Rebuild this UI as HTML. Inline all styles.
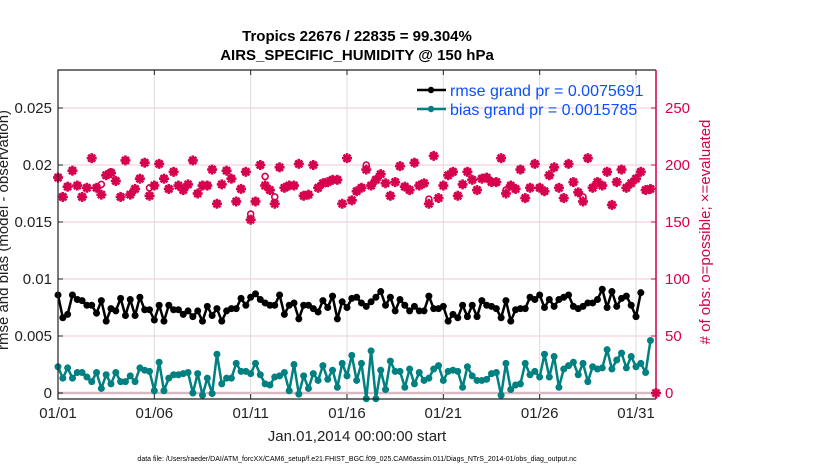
<!DOCTYPE html>
<html><head><meta charset="utf-8"><style>
body{margin:0;background:#fff;}
svg{display:block;font-family:"Liberation Sans",sans-serif;}
</style></head><body>
<svg id="chart" width="830" height="470" viewBox="0 0 830 470" xmlns="http://www.w3.org/2000/svg">
<text x="357" y="41" text-anchor="middle" font-size="15" font-weight="bold">Tropics 22676 / 22835 = 99.304%</text>
<text x="357" y="60" text-anchor="middle" font-size="15" font-weight="bold">AIRS_SPECIFIC_HUMIDITY @ 150 hPa</text>
<g id="grid"></g>
<g id="marks"></g>
<g id="axes"></g>
<text transform="translate(8,230) rotate(-90)" text-anchor="middle" font-size="15" fill="#222">rmse and bias (model - observation)</text>
<text transform="translate(710,232) rotate(-90)" text-anchor="middle" font-size="15" fill="#d6004e"># of obs: o=possible; ×=evaluated</text>
<text x="357" y="441" text-anchor="middle" font-size="15" fill="#222">Jan.01,2014 00:00:00 start</text>
<text x="357" y="461" text-anchor="middle" font-size="7" fill="#000">data file: /Users/raeder/DAI/ATM_forcXX/CAM6_setup/f.e21.FHIST_BGC.f09_025.CAM6assim.011/Diags_NTrS_2014-01/obs_diag_output.nc</text>
<g>
<line x1="417" y1="90" x2="446" y2="90" stroke="#000" stroke-width="2.5"/>
<circle cx="431" cy="90" r="3.2" fill="#000"/>
<text x="450" y="96" font-size="16" fill="#0a50ff">rmse grand pr = 0.0075691</text>
<line x1="417" y1="109" x2="446" y2="109" stroke="#008080" stroke-width="2.5"/>
<circle cx="431" cy="109" r="3.2" fill="#008080"/>
<text x="450" y="115" font-size="16" fill="#0a50ff">bias grand pr = 0.0015785</text>
</g>
</svg>
<script>
const xTickLabels = ["01/01","01/06","01/11","01/16","01/21","01/26","01/31"];
const xTickDays = [0,5,10,15,20,25,30];
const yTickValues = [0,0.005,0.01,0.015,0.02,0.025];
const yTickLabels = ["0","0.005","0.01","0.015","0.02","0.025"];
const y2TickValues = [0,50,100,150,200,250];
const rmse = [86,66,69,86,82,81,77,77,70,81,63,74,72,83,68,82,68,84,73,73,64,77,63,77,73,73,69,72,67,72,63,76,68,74,63,72,74,74,83,77,84,87,82,79,77,77,86,69,77,79,65,77,77,74,71,81,
75,85,65,80,75,83,84,79,76,80,84,89,77,84,72,82,77,72,76,72,72,85,74,74,76,63,69,66,77,67,77,67,81,77,76,74,66,81,63,73,74,74,84,82,86,75,82,76,82,84,86,76,74,76,79,79,82,91,75,89,76,83,85,77,67,88];
const bias = [23,13,22,13,18,18,14,10,18,4,16,8,18,10,10,15,10,22,20,19,2,27,2,13,16,16,17,18,0,17,-2,13,-0.5,34,8,13,13,26,19,19,17,26,16,8,7,14,15,18,2,25,-1,15,4,17,11,24,
12,20,5,26,15,33,11,26,-5,37,-5,20,3,28,19,19,5,21,8,18,11,13,21,24,11,19,20,19,5,23,15,11,11,12,17,18,-2,26,3,7,8,26,16,19,14,34,14,32,5,21,24,27,16,26,10,23,21,22,38,21,29,35,22,32,23,26,18,46];
const evaluated = [189,172,181,195,182,172,180,206,180,174,191,193,186,172,204,174,179,188,202,173,182,201,188,179,194,182,178,183,204,175,182,182,196,166,183,195,188,168,179,194,152,168,200,182,178,166,198,180,182,182,201,173,174,200,180,184,
185,187,187,166,206,169,177,180,196,182,187,192,184,173,185,199,181,178,202,182,184,166,208,171,182,191,194,173,183,194,187,178,188,189,185,185,206,175,182,179,196,171,180,201,180,177,191,198,180,171,201,185,176,168,206,180,185,182,194,165,185,196,180,184,188,194,178,179];
const possible = [189,172,181,195,182,172,180,206,180,183,191,194,186,172,204,174,179,188,202,180,182,201,188,179,194,182,178,183,204,175,182,182,196,166,183,195,188,168,179,194,157,168,200,190,178,172,198,180,182,182,201,173,174,200,180,184,
185,187,187,166,206,169,177,180,200,182,187,192,184,173,185,199,181,178,202,182,184,170,208,171,182,191,194,173,183,194,187,178,188,189,185,185,206,178,182,179,196,171,180,201,180,177,191,198,180,171,201,185,176,172,206,180,185,182,194,165,185,196,180,184,188,194,178,179];
const stepDays = 0.25;

const NS="http://www.w3.org/2000/svg";
const L=58,R=656,T=70,B=399,Y0=393,PXPER=57/0.005;
function xs(d){return L+d*(578/30);}
function ys(v){return Y0-v*PXPER;}
function y2s(n){return Y0-n*(57/50);}
function mk(tag,attrs,parent){const e=document.createElementNS(NS,tag);for(const k in attrs)e.setAttribute(k,attrs[k]);parent.appendChild(e);return e;}
const grid=document.getElementById('grid'),marks=document.getElementById('marks'),axes=document.getElementById('axes');
yTickValues.forEach((v,i)=>{
  const g=mk('line',{x1:L,x2:R,y1:ys(v),y2:ys(v),stroke:i==0?'#d9b8c2':'#f4c8d6','stroke-width':i==0?2.5:1},grid);
  
  
  const t=mk('text',{x:L-6,y:ys(v)+5,'text-anchor':'end','font-size':15,fill:'#222'},axes);
  t.textContent=yTickLabels[i];
  
  
  mk('line',{x1:L,x2:L+5,y1:ys(v),y2:ys(v),stroke:'#222'},axes);
});
xTickDays.forEach((d,i)=>{
  const g=mk('line',{x1:xs(d),x2:xs(d),y1:T,y2:B,stroke:'#dcdcdc','stroke-width':1},grid);
  
  
  mk('line',{x1:xs(d),x2:xs(d),y1:B,y2:B-5,stroke:'#222'},axes);
  mk('line',{x1:xs(d),x2:xs(d),y1:T,y2:T+5,stroke:'#222'},axes);
  const t=mk('text',{x:xs(d),y:418,'text-anchor':'middle','font-size':15,fill:'#222'},axes);
  t.textContent=xTickLabels[i];
  
  
});
y2TickValues.forEach(n=>{
  mk('line',{x1:R,x2:R-5,y1:y2s(n),y2:y2s(n),stroke:'#d6004e'},axes);
  const t=mk('text',{x:R+9,y:y2s(n)+5,'font-size':15,fill:'#d6004e'},axes);
  t.textContent=String(n);
  
  
});
mk('polyline',{points:`${R},${T} ${L},${T} ${L},${B} ${R},${B}`,fill:'none',stroke:'#222','stroke-width':1.2},axes);
mk('line',{x1:R,x2:R,y1:T,y2:B,stroke:'#d6004e','stroke-width':1.5},axes);

const red='#d6004e';
function star(x,y){
  const g=mk('g',{stroke:red,'stroke-width':2.6},marks);
  
  
  const s=5,d=3.5;
  mk('line',{x1:x-s,x2:x+s,y1:y,y2:y},g);mk('line',{x1:x,x2:x,y1:y-s,y2:y+s},g);
  mk('line',{x1:x-d,x2:x+d,y1:y-d,y2:y+d},g);mk('line',{x1:x-d,x2:x+d,y1:y+d,y2:y-d},g);
}
possible.forEach((n,i)=>{
  const c=mk('circle',{cx:xs(i*stepDays),cy:y2s(n),r:3,fill:'none',stroke:red,'stroke-width':1.6},marks);
  
  
});
evaluated.forEach((n,i)=>star(xs(i*stepDays),y2s(n)));
star(R,Y0);

function series(arr,color,name){
  const pts=arr.map((v,i)=>xs(i*stepDays)+','+ys(v*1e-4)).join(' ');
  const p=mk('polyline',{points:pts,fill:'none',stroke:color,'stroke-width':2.5,'stroke-linejoin':'round'},marks);
  
  
  arr.forEach((v,i)=>{
    const c=mk('circle',{cx:xs(i*stepDays),cy:ys(v*1e-4),r:3.5,fill:color},marks);
    
    
  });
}
series(rmse,'#000','rmse');
series(bias,'#008080','bias');
</script>
</body></html>
